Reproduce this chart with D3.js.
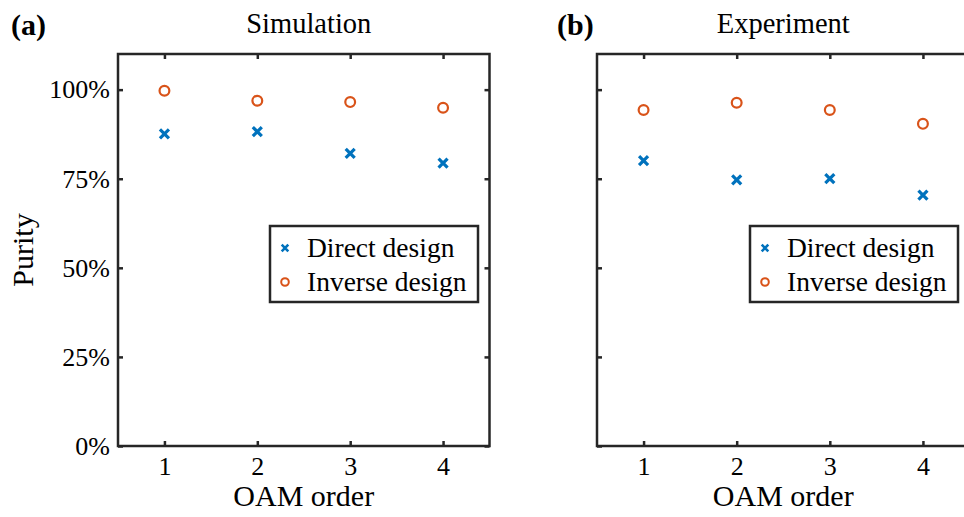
<!DOCTYPE html>
<html>
<head>
<meta charset="utf-8">
<script src="https://cdn.jsdelivr.net/npm/d3@7"></script>
<style>
  html, body { margin: 0; padding: 0; background: #fff; }
  svg { display: block; }
  text { font-family: "Liberation Serif", "Times New Roman", serif; fill: #000; }
</style>
</head>
<body>
<svg id="chart" width="964" height="517"></svg>
<script>
// OAM orders on the x axis
const oamOrders = [1, 2, 3, 4];
// Purity (%) – panel (a), simulation
const simDirect = [87.6, 88.2, 82.1, 79.4];
const simInverse = [99.7, 96.9, 96.5, 94.9];
// Purity (%) – panel (b), experiment
const expDirect = [80.1, 74.7, 75.0, 70.4];
const expInverse = [94.3, 96.3, 94.3, 90.4];
// Axis ticks
const yTicks = [0, 25, 50, 75, 100];
const yTickLabels = ["0%", "25%", "50%", "75%", "100%"];
const seriesNames = ["Direct design", "Inverse design"];

const BLUE = "#0072BD", ORANGE = "#D95319", AXIS = "#262626";

const svg = d3.select("#chart");

const panels = [
  { tag: "(a)", title: "Simulation", direct: simDirect, inverse: simInverse,
    left: 118, right: 489.5, tagX: 11, legendX: 270, yLabel: true, titleShift: 5 },
  { tag: "(b)", title: "Experiment", direct: expDirect, inverse: expInverse,
    left: 597, right: 969.5, tagX: 557, legendX: 750, yLabel: false, titleShift: 0 }
];

const plotTop = 54, plotBottom = 446;

function crossPath(s) {
  return `M${-s},${-s}L${s},${s}M${-s},${s}L${s},${-s}`;
}

panels.forEach(p => {
  const g = svg.append("g");
  const x = d3.scaleLinear().domain([0.5, 4.5]).range([p.left, p.right]);
  const y = d3.scaleLinear().domain([0, 110]).range([plotBottom, plotTop]);

  // plot box
  g.append("rect")
    .attr("x", p.left).attr("y", plotTop)
    .attr("width", p.right - p.left).attr("height", plotBottom - plotTop)
    .attr("fill", "none").attr("stroke", AXIS).attr("stroke-width", 2.5);

  const styleAxis = (sel, hideText) => {
    sel.select(".domain").remove();
    sel.selectAll(".tick line").attr("stroke", AXIS).attr("stroke-width", 2.5);
    sel.selectAll(".tick text")
      .style("font-family", '"Liberation Serif", "Times New Roman", serif')
      .style("font-size", "26px").attr("fill", "#000");
    if (hideText) sel.selectAll(".tick text").remove();
  };

  // bottom axis (ticks point inward)
  g.append("g").attr("transform", `translate(0,${plotBottom})`)
    .call(d3.axisBottom(x).tickValues(oamOrders).tickFormat(d3.format("d"))
      .tickSizeInner(-5).tickSizeOuter(0).tickPadding(11))
    .call(s => styleAxis(s, false));
  // top axis
  g.append("g").attr("transform", `translate(0,${plotTop})`)
    .call(d3.axisTop(x).tickValues(oamOrders).tickSizeInner(-5).tickSizeOuter(0))
    .call(s => styleAxis(s, true));
  // left axis
  g.append("g").attr("transform", `translate(${p.left},0)`)
    .call(d3.axisLeft(y).tickValues(yTicks)
      .tickFormat((d, i) => p.yLabel ? yTickLabels[i] : "")
      .tickSizeInner(-5).tickSizeOuter(0).tickPadding(8))
    .call(s => styleAxis(s, !p.yLabel));
  // right axis
  g.append("g").attr("transform", `translate(${p.right},0)`)
    .call(d3.axisRight(y).tickValues(yTicks).tickSizeInner(-5).tickSizeOuter(0))
    .call(s => styleAxis(s, true));

  // inverse design: open circles
  g.selectAll("circle.inv").data(oamOrders).enter().append("circle")
    .attr("class", "inv")
    .attr("cx", d => x(d)).attr("cy", (d, i) => y(p.inverse[i]))
    .attr("r", 4.9).attr("fill", "none").attr("stroke", ORANGE).attr("stroke-width", 2.2);

  // direct design: crosses
  g.selectAll("path.dir").data(oamOrders).enter().append("path")
    .attr("class", "dir")
    .attr("transform", (d, i) => `translate(${x(d)},${y(p.direct[i])})`)
    .attr("d", crossPath(4.5)).attr("fill", "none")
    .attr("stroke", BLUE).attr("stroke-width", 3.2);

  // titles and labels
  svg.append("text").attr("x", (p.left + p.right) / 2 + p.titleShift).attr("y", 33)
    .attr("text-anchor", "middle").style("font-size", "28.5px").text(p.title);
  svg.append("text").attr("x", p.tagX).attr("y", 35)
    .style("font-size", "30px").style("font-weight", "bold").text(p.tag);
  svg.append("text").attr("x", (p.left + p.right) / 2).attr("y", 506)
    .attr("text-anchor", "middle").style("font-size", "30px").text("OAM order");
  if (p.yLabel) {
    svg.append("text").attr("transform", `translate(33,${(plotTop + plotBottom) / 2}) rotate(-90)`)
      .attr("text-anchor", "middle").style("font-size", "30px").text("Purity");
  }

  // legend
  const lg = svg.append("g");
  lg.append("rect").attr("x", p.legendX).attr("y", 226)
    .attr("width", 208).attr("height", 76)
    .attr("fill", "#fff").attr("stroke", AXIS).attr("stroke-width", 2.5);
  seriesNames.forEach((name, i) => {
    const cy = 248 + i * 34;
    if (i === 0) {
      lg.append("path").attr("transform", `translate(${p.legendX + 15},${cy})`)
        .attr("d", crossPath(3.3)).attr("stroke", BLUE).attr("stroke-width", 2.6).attr("fill", "none");
    } else {
      lg.append("circle").attr("cx", p.legendX + 15).attr("cy", cy).attr("r", 3.8)
        .attr("fill", "none").attr("stroke", ORANGE).attr("stroke-width", 2);
    }
    lg.append("text").attr("x", p.legendX + 37).attr("y", cy + 9)
      .style("font-size", "27.5px").text(name);
  });
});
</script>
</body>
</html>
